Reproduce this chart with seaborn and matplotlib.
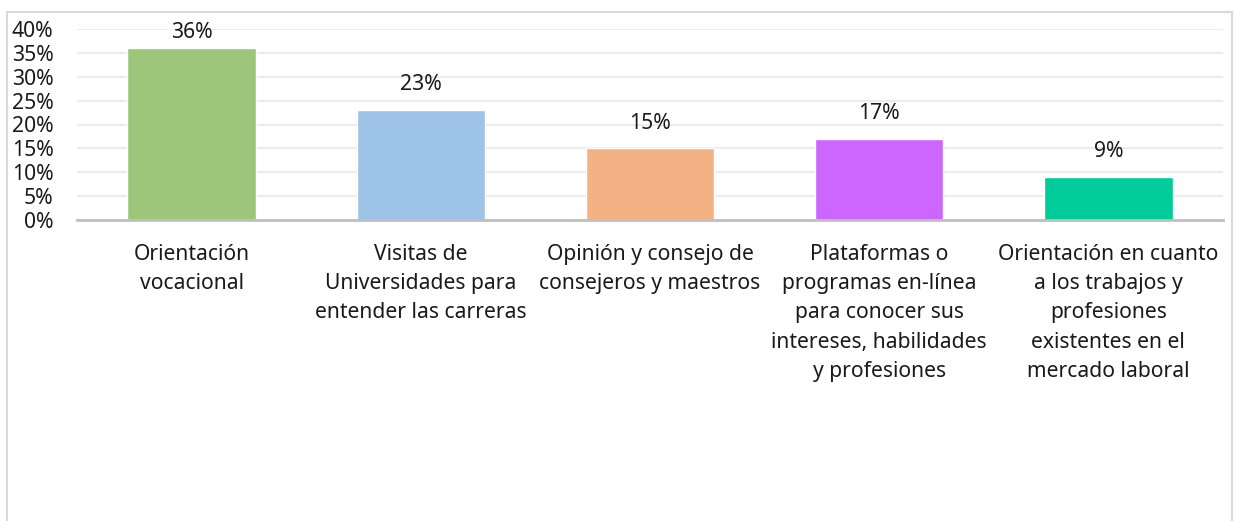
import matplotlib
matplotlib.use("Agg")
import matplotlib.pyplot as plt
import seaborn as sns
import pandas as pd
from matplotlib.patches import Rectangle
from matplotlib.ticker import PercentFormatter

categories = [
    "Orientación\nvocacional",
    "Visitas de\nUniversidades para\nentender las carreras",
    "Opinión y consejo de\nconsejeros y maestros",
    "Plataformas o\nprogramas en-línea\npara conocer sus\nintereses, habilidades\ny profesiones",
    "Orientación en cuanto\na los trabajos y\nprofesiones\nexistentes en el\nmercado laboral",
]
values = [0.36, 0.23, 0.15, 0.17, 0.09]
labels = ["36%", "23%", "15%", "17%", "9%"]
colors = ["#9DC67B", "#9DC3E6", "#F4B183", "#CC66FF", "#00CC99"]

sns.set_theme(style="white")
plt.rcParams["font.family"] = ["Noto Sans", "DejaVu Sans"]

FS = 15.2

fig = plt.figure(figsize=(12.34, 5.21), dpi=100)
ax = fig.add_axes([77/1234, 1-220/521, (1223-77)/1234, (220-29)/521])

df = pd.DataFrame({"cat": categories, "val": values})
sns.barplot(data=df, x="cat", y="val", hue="cat", palette=colors, legend=False,
            width=0.56, ax=ax, saturation=1)

ax.set_ylim(0, 0.40)
ax.set_xlim(-0.5, len(categories) - 0.5)
ax.set_yticks([i * 0.05 for i in range(9)])
ax.yaxis.set_major_formatter(PercentFormatter(1.0, decimals=0))
ax.grid(axis="y", color="#ECECEC", linewidth=1.5)
ax.set_axisbelow(True)
for s in ["top", "right", "left"]:
    ax.spines[s].set_visible(False)
ax.spines["bottom"].set_color("#BFBFBF")
ax.spines["bottom"].set_linewidth(2)
ax.set_xlabel("")
ax.set_ylabel("")
ax.tick_params(axis="y", length=0, pad=17, labelsize=FS, labelcolor="#1a1a1a")
ax.tick_params(axis="x", length=0, pad=17, labelsize=FS, labelcolor="#1a1a1a")
for t in ax.get_xticklabels():
    t.set_linespacing(1.52)
    t.set_va("top")
    t.set_ha("center")

for i, (v, lab) in enumerate(zip(values, labels)):
    ax.text(i, min(v + 0.053, 0.392), lab, ha="center", va="center",
            fontsize=FS, color="#1a1a1a")

fig.patches.append(Rectangle((7/1234, -0.05), (1232-7)/1234, 1.05 - 12/521,
                             transform=fig.transFigure, fill=False,
                             edgecolor="#D9D9D9", linewidth=1.5))

fig.savefig("out.png", dpi=100)
